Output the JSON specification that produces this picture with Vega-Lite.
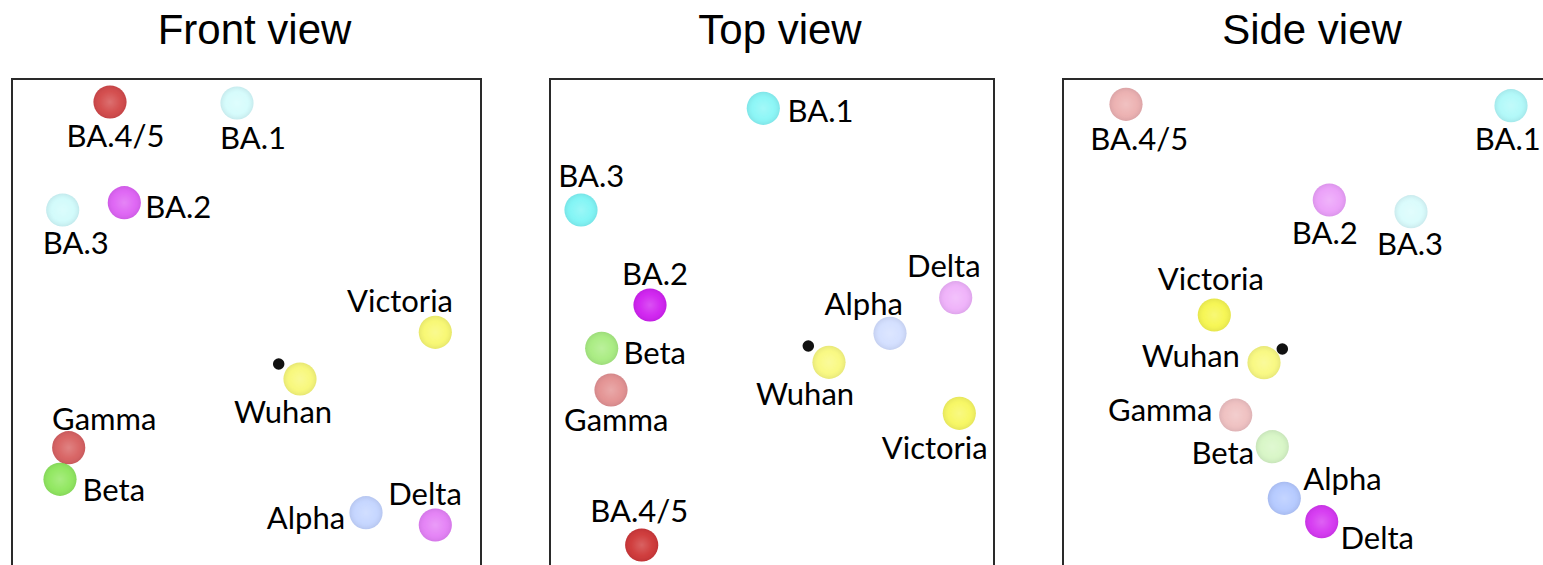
{
  "$schema": "https://vega.github.io/schema/vega-lite/v6.json",
  "background": "white",
  "padding": {"left": 11, "top": 9, "right": 0, "bottom": 0},
  "spacing": 67,
  "config": {
    "view": {"stroke": "#2a2a2a", "strokeWidth": 2},
    "title": {"font": "Liberation Sans", "fontSize": 42, "fontWeight": "normal", "color": "black", "anchor": "middle", "offset": 26, "dx": 8}
  },
  "datasets": {
    "pts": [
      {"view": "Front view", "kind": "variant", "variant": "BA.4/5", "x": 9.8, "y": 2.3, "lx": 10.35, "ly": 5.7, "depth": 0.88},
      {"view": "Front view", "kind": "variant", "variant": "BA.1", "x": 22.5, "y": 2.4, "lx": 24.1, "ly": 5.85, "depth": 0.22},
      {"view": "Front view", "kind": "variant", "variant": "BA.3", "x": 5.07, "y": 13.1, "lx": 6.37, "ly": 16.35, "depth": 0.24},
      {"view": "Front view", "kind": "variant", "variant": "BA.2", "x": 11.23, "y": 12.37, "lx": 16.62, "ly": 12.77, "depth": 0.7},
      {"view": "Front view", "kind": "variant", "variant": "Victoria", "x": 42.33, "y": 25.33, "lx": 38.8, "ly": 22.18, "depth": 0.69},
      {"view": "Front view", "kind": "variant", "variant": "Wuhan", "x": 28.8, "y": 30.0, "lx": 27.1, "ly": 33.27, "depth": 0.65},
      {"view": "Front view", "kind": "variant", "variant": "Gamma", "x": 5.67, "y": 36.87, "lx": 9.23, "ly": 34.0, "depth": 0.78},
      {"view": "Front view", "kind": "variant", "variant": "Beta", "x": 4.8, "y": 40.03, "lx": 10.18, "ly": 41.1, "depth": 0.78},
      {"view": "Front view", "kind": "variant", "variant": "Alpha", "x": 35.4, "y": 43.37, "lx": 29.4, "ly": 43.93, "depth": 0.53},
      {"view": "Front view", "kind": "variant", "variant": "Delta", "x": 42.33, "y": 44.6, "lx": 41.3, "ly": 41.5, "depth": 0.57},
      {"view": "Front view", "kind": "marker", "variant": "", "x": 26.67, "y": 28.5},

      {"view": "Top view", "kind": "variant", "variant": "BA.1", "x": 21.33, "y": 2.93, "lx": 27.05, "ly": 3.18, "depth": 0.62},
      {"view": "Top view", "kind": "variant", "variant": "BA.3", "x": 3.1, "y": 13.1, "lx": 4.13, "ly": 9.65, "depth": 0.67},
      {"view": "Top view", "kind": "variant", "variant": "BA.2", "x": 10.0, "y": 22.6, "lx": 10.5, "ly": 19.47, "depth": 1.0},
      {"view": "Top view", "kind": "variant", "variant": "Beta", "x": 5.17, "y": 26.93, "lx": 10.47, "ly": 27.35, "depth": 0.61},
      {"view": "Top view", "kind": "variant", "variant": "Gamma", "x": 6.1, "y": 31.1, "lx": 6.63, "ly": 34.1, "depth": 0.54},
      {"view": "Top view", "kind": "variant", "variant": "BA.4/5", "x": 9.17, "y": 46.6, "lx": 8.92, "ly": 43.18, "depth": 0.97},
      {"view": "Top view", "kind": "variant", "variant": "Wuhan", "x": 27.9, "y": 28.33, "lx": 25.5, "ly": 31.52, "depth": 0.62},
      {"view": "Top view", "kind": "variant", "variant": "Alpha", "x": 34.0, "y": 25.43, "lx": 31.37, "ly": 22.52, "depth": 0.4},
      {"view": "Top view", "kind": "variant", "variant": "Delta", "x": 40.57, "y": 21.87, "lx": 39.38, "ly": 18.68, "depth": 0.35},
      {"view": "Top view", "kind": "variant", "variant": "Victoria", "x": 40.93, "y": 33.43, "lx": 38.47, "ly": 36.85, "depth": 0.77},
      {"view": "Top view", "kind": "marker", "variant": "", "x": 25.83, "y": 26.7},

      {"view": "Side view", "kind": "variant", "variant": "BA.4/5", "x": 6.3, "y": 2.53, "lx": 7.62, "ly": 6.02, "depth": 0.38},
      {"view": "Side view", "kind": "variant", "variant": "BA.1", "x": 44.8, "y": 2.67, "lx": 44.47, "ly": 6.02, "depth": 0.41},
      {"view": "Side view", "kind": "variant", "variant": "BA.2", "x": 26.63, "y": 12.1, "lx": 26.17, "ly": 15.43, "depth": 0.43},
      {"view": "Side view", "kind": "variant", "variant": "BA.3", "x": 34.8, "y": 13.27, "lx": 34.7, "ly": 16.52, "depth": 0.2},
      {"view": "Side view", "kind": "variant", "variant": "Victoria", "x": 15.13, "y": 23.6, "lx": 14.78, "ly": 20.02, "depth": 0.85},
      {"view": "Side view", "kind": "variant", "variant": "Wuhan", "x": 20.1, "y": 28.37, "lx": 12.78, "ly": 27.68, "depth": 0.62},
      {"view": "Side view", "kind": "variant", "variant": "Gamma", "x": 17.27, "y": 33.6, "lx": 9.73, "ly": 33.1, "depth": 0.31},
      {"view": "Side view", "kind": "variant", "variant": "Beta", "x": 20.93, "y": 36.77, "lx": 15.98, "ly": 37.43, "depth": 0.28},
      {"view": "Side view", "kind": "variant", "variant": "Alpha", "x": 22.13, "y": 41.93, "lx": 27.95, "ly": 40.02, "depth": 0.68},
      {"view": "Side view", "kind": "variant", "variant": "Delta", "x": 25.87, "y": 44.27, "lx": 31.42, "ly": 45.93, "depth": 0.9},
      {"view": "Side view", "kind": "marker", "variant": "", "x": 21.93, "y": 27.0}
    ]
  },
  "hconcat": [
    {
      "title": "Front view",
      "width": 469, "height": 500,
      "data": {"name": "pts"},
      "transform": [{"filter": "datum.view === 'Front view'"}],
      "layer": [
        {
          "transform": [{"filter": "datum.kind === 'variant'"}],
          "mark": {"type": "circle", "size": 1100},
          "encoding": {
            "x": {"field": "x", "type": "quantitative", "scale": {"domain": [0, 46.9], "nice": false, "zero": false}, "axis": null},
            "y": {"field": "y", "type": "quantitative", "scale": {"domain": [0, 50], "nice": false, "reverse": true}, "axis": null},
            "color": {"field": "variant", "type": "nominal", "legend": null, "scale": {"domain": ["BA.1", "BA.2", "BA.3", "BA.4/5", "Alpha", "Beta", "Gamma", "Delta", "Wuhan", "Victoria"], "range": ["#40f0f0", "#d020f0", "#40f0f0", "#cc2f2f", "#90b0ff", "#70e030", "#cc3333", "#d020f0", "#f5f530", "#f5f530"]}},
            "opacity": {"field": "depth", "type": "quantitative", "legend": null, "scale": {"domain": [0, 1], "range": [0, 1]}}
          }
        },
        {
          "transform": [{"filter": "datum.kind === 'variant'"}],
          "mark": {"type": "circle", "size": 1100, "opacity": 1, "fill": {"gradient": "radial", "x1": 0.5, "y1": 0.5, "r1": 0, "x2": 0.5, "y2": 0.5, "r2": 0.5, "stops": [{"offset": 0, "color": "rgba(255,255,255,0.22)"}, {"offset": 0.65, "color": "rgba(255,255,255,0.04)"}, {"offset": 1, "color": "rgba(0,0,40,0.07)"}]}},
          "encoding": {
            "x": {"field": "x", "type": "quantitative", "axis": null},
            "y": {"field": "y", "type": "quantitative", "axis": null}
          }
        },
        {
          "transform": [{"filter": "datum.kind === 'marker'"}],
          "mark": {"type": "circle", "size": 133, "color": "#111111", "opacity": 1},
          "encoding": {
            "x": {"field": "x", "type": "quantitative", "axis": null},
            "y": {"field": "y", "type": "quantitative", "axis": null}
          }
        },
        {
          "transform": [{"filter": "datum.kind === 'variant'"}],
          "mark": {"type": "text", "font": "Lato", "fontSize": 31, "align": "center", "baseline": "middle", "dy": 2, "color": "black"},
          "encoding": {
            "x": {"field": "lx", "type": "quantitative", "axis": null},
            "y": {"field": "ly", "type": "quantitative", "axis": null},
            "text": {"field": "variant", "type": "nominal"}
          }
        }
      ]
    },
    {
      "title": "Top view",
      "width": 444, "height": 500,
      "data": {"name": "pts"},
      "transform": [{"filter": "datum.view === 'Top view'"}],
      "layer": [
        {
          "transform": [{"filter": "datum.kind === 'variant'"}],
          "mark": {"type": "circle", "size": 1100},
          "encoding": {
            "x": {"field": "x", "type": "quantitative", "scale": {"domain": [0, 44.4], "nice": false, "zero": false}, "axis": null},
            "y": {"field": "y", "type": "quantitative", "scale": {"domain": [0, 50], "nice": false, "reverse": true}, "axis": null},
            "color": {"field": "variant", "type": "nominal", "legend": null, "scale": {"domain": ["BA.1", "BA.2", "BA.3", "BA.4/5", "Alpha", "Beta", "Gamma", "Delta", "Wuhan", "Victoria"], "range": ["#40f0f0", "#d020f0", "#40f0f0", "#cc2f2f", "#90b0ff", "#70e030", "#cc3333", "#d020f0", "#f5f530", "#f5f530"]}},
            "opacity": {"field": "depth", "type": "quantitative", "legend": null, "scale": {"domain": [0, 1], "range": [0, 1]}}
          }
        },
        {
          "transform": [{"filter": "datum.kind === 'variant'"}],
          "mark": {"type": "circle", "size": 1100, "opacity": 1, "fill": {"gradient": "radial", "x1": 0.5, "y1": 0.5, "r1": 0, "x2": 0.5, "y2": 0.5, "r2": 0.5, "stops": [{"offset": 0, "color": "rgba(255,255,255,0.22)"}, {"offset": 0.65, "color": "rgba(255,255,255,0.04)"}, {"offset": 1, "color": "rgba(0,0,40,0.07)"}]}},
          "encoding": {
            "x": {"field": "x", "type": "quantitative", "axis": null},
            "y": {"field": "y", "type": "quantitative", "axis": null}
          }
        },
        {
          "transform": [{"filter": "datum.kind === 'marker'"}],
          "mark": {"type": "circle", "size": 133, "color": "#111111", "opacity": 1},
          "encoding": {
            "x": {"field": "x", "type": "quantitative", "axis": null},
            "y": {"field": "y", "type": "quantitative", "axis": null}
          }
        },
        {
          "transform": [{"filter": "datum.kind === 'variant'"}],
          "mark": {"type": "text", "font": "Lato", "fontSize": 31, "align": "center", "baseline": "middle", "dy": 2, "color": "black"},
          "encoding": {
            "x": {"field": "lx", "type": "quantitative", "axis": null},
            "y": {"field": "ly", "type": "quantitative", "axis": null},
            "text": {"field": "variant", "type": "nominal"}
          }
        }
      ]
    },
    {
      "title": "Side view",
      "width": 482, "height": 500,
      "data": {"name": "pts"},
      "transform": [{"filter": "datum.view === 'Side view'"}],
      "layer": [
        {
          "transform": [{"filter": "datum.kind === 'variant'"}],
          "mark": {"type": "circle", "size": 1100},
          "encoding": {
            "x": {"field": "x", "type": "quantitative", "scale": {"domain": [0, 48.2], "nice": false, "zero": false}, "axis": null},
            "y": {"field": "y", "type": "quantitative", "scale": {"domain": [0, 50], "nice": false, "reverse": true}, "axis": null},
            "color": {"field": "variant", "type": "nominal", "legend": null, "scale": {"domain": ["BA.1", "BA.2", "BA.3", "BA.4/5", "Alpha", "Beta", "Gamma", "Delta", "Wuhan", "Victoria"], "range": ["#40f0f0", "#d020f0", "#40f0f0", "#cc2f2f", "#90b0ff", "#70e030", "#cc3333", "#d020f0", "#f5f530", "#f5f530"]}},
            "opacity": {"field": "depth", "type": "quantitative", "legend": null, "scale": {"domain": [0, 1], "range": [0, 1]}}
          }
        },
        {
          "transform": [{"filter": "datum.kind === 'variant'"}],
          "mark": {"type": "circle", "size": 1100, "opacity": 1, "fill": {"gradient": "radial", "x1": 0.5, "y1": 0.5, "r1": 0, "x2": 0.5, "y2": 0.5, "r2": 0.5, "stops": [{"offset": 0, "color": "rgba(255,255,255,0.22)"}, {"offset": 0.65, "color": "rgba(255,255,255,0.04)"}, {"offset": 1, "color": "rgba(0,0,40,0.07)"}]}},
          "encoding": {
            "x": {"field": "x", "type": "quantitative", "axis": null},
            "y": {"field": "y", "type": "quantitative", "axis": null}
          }
        },
        {
          "transform": [{"filter": "datum.kind === 'marker'"}],
          "mark": {"type": "circle", "size": 133, "color": "#111111", "opacity": 1},
          "encoding": {
            "x": {"field": "x", "type": "quantitative", "axis": null},
            "y": {"field": "y", "type": "quantitative", "axis": null}
          }
        },
        {
          "transform": [{"filter": "datum.kind === 'variant'"}],
          "mark": {"type": "text", "font": "Lato", "fontSize": 31, "align": "center", "baseline": "middle", "dy": 2, "color": "black"},
          "encoding": {
            "x": {"field": "lx", "type": "quantitative", "axis": null},
            "y": {"field": "ly", "type": "quantitative", "axis": null},
            "text": {"field": "variant", "type": "nominal"}
          }
        }
      ]
    }
  ]
}
